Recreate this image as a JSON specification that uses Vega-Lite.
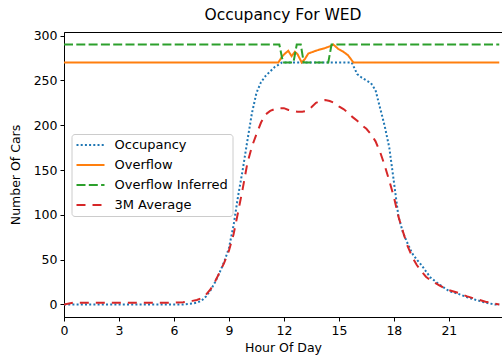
{
  "$schema": "https://vega.github.io/schema/vega-lite/v6.json",
  "width": 438,
  "height": 285,
  "autosize": {"type": "none"},
  "padding": {"left": 64, "top": 32, "right": 0, "bottom": 43},
  "background": "white",
  "title": {"text": "Occupancy For WED", "font": "DejaVu Sans", "fontSize": 15.5, "fontWeight": "normal", "color": "black", "anchor": "middle", "offset": 6},
  "config": {
    "view": {"stroke": "black", "strokeWidth": 1},
    "font": "DejaVu Sans",
    "axis": {"domainColor": "black", "tickColor": "black", "labelColor": "black", "titleColor": "black", "labelFont": "DejaVu Sans", "titleFont": "DejaVu Sans", "labelFontSize": 12.5, "titleFontSize": 12.5, "titleFontWeight": "normal", "tickSize": 4, "labelPadding": 3, "grid": false, "domainWidth": 1, "tickWidth": 1, "labelFlush": false, "labelOverlap": false},
    "legend": {"orient": "none", "legendX": 7.5, "legendY": 102, "padding": 4, "strokeColor": "#cccccc", "fillColor": "rgba(255,255,255,0.8)", "cornerRadius": 3, "symbolType": "stroke", "symbolSize": 784, "labelFont": "DejaVu Sans", "labelFontSize": 13, "labelColor": "black", "labelOffset": 9, "rowPadding": 6, "clipHeight": 14}
  },
  "data": {"values": [
    {"h":0,"s":"Occupancy","v":0},{"h":0.5,"s":"Occupancy","v":0},{"h":1,"s":"Occupancy","v":0},{"h":1.5,"s":"Occupancy","v":0},{"h":2,"s":"Occupancy","v":0},{"h":2.5,"s":"Occupancy","v":0},{"h":3,"s":"Occupancy","v":0},{"h":3.5,"s":"Occupancy","v":0},{"h":4,"s":"Occupancy","v":0},{"h":4.5,"s":"Occupancy","v":0},{"h":5,"s":"Occupancy","v":0},{"h":5.5,"s":"Occupancy","v":0},{"h":6,"s":"Occupancy","v":0},{"h":6.5,"s":"Occupancy","v":0},{"h":7,"s":"Occupancy","v":1},{"h":7.25,"s":"Occupancy","v":2},{"h":7.5,"s":"Occupancy","v":4},{"h":7.75,"s":"Occupancy","v":9},{"h":8,"s":"Occupancy","v":16},{"h":8.25,"s":"Occupancy","v":25},{"h":8.5,"s":"Occupancy","v":36},{"h":8.75,"s":"Occupancy","v":48},{"h":9,"s":"Occupancy","v":63},{"h":9.25,"s":"Occupancy","v":88},{"h":9.5,"s":"Occupancy","v":121},{"h":9.75,"s":"Occupancy","v":150},{"h":10,"s":"Occupancy","v":182},{"h":10.25,"s":"Occupancy","v":213},{"h":10.5,"s":"Occupancy","v":236},{"h":10.75,"s":"Occupancy","v":248},{"h":11,"s":"Occupancy","v":255},{"h":11.25,"s":"Occupancy","v":260},{"h":11.5,"s":"Occupancy","v":265},{"h":11.75,"s":"Occupancy","v":268},{"h":11.9,"s":"Occupancy","v":270},{"h":15.7,"s":"Occupancy","v":270},{"h":16,"s":"Occupancy","v":257},{"h":16.25,"s":"Occupancy","v":253},{"h":16.5,"s":"Occupancy","v":250},{"h":16.75,"s":"Occupancy","v":247},{"h":17,"s":"Occupancy","v":239},{"h":17.25,"s":"Occupancy","v":219},{"h":17.5,"s":"Occupancy","v":199},{"h":17.75,"s":"Occupancy","v":175},{"h":18,"s":"Occupancy","v":137},{"h":18.25,"s":"Occupancy","v":98},{"h":18.5,"s":"Occupancy","v":80},{"h":18.75,"s":"Occupancy","v":68},{"h":19,"s":"Occupancy","v":57},{"h":19.25,"s":"Occupancy","v":50},{"h":19.5,"s":"Occupancy","v":44},{"h":19.75,"s":"Occupancy","v":37},{"h":20,"s":"Occupancy","v":30},{"h":20.5,"s":"Occupancy","v":22},{"h":21,"s":"Occupancy","v":15},{"h":21.5,"s":"Occupancy","v":12},{"h":22,"s":"Occupancy","v":8},{"h":22.5,"s":"Occupancy","v":5},{"h":23,"s":"Occupancy","v":2},{"h":23.5,"s":"Occupancy","v":0},{"h":23.75,"s":"Occupancy","v":0},
    {"h":0,"s":"Overflow","v":270},{"h":11.7,"s":"Overflow","v":270},{"h":11.88,"s":"Overflow","v":276},{"h":12.06,"s":"Overflow","v":280},{"h":12.24,"s":"Overflow","v":283},{"h":12.42,"s":"Overflow","v":277},{"h":12.6,"s":"Overflow","v":282},{"h":12.75,"s":"Overflow","v":279},{"h":12.97,"s":"Overflow","v":270},{"h":13.15,"s":"Overflow","v":274},{"h":13.33,"s":"Overflow","v":280},{"h":13.6,"s":"Overflow","v":282},{"h":13.88,"s":"Overflow","v":284},{"h":14.24,"s":"Overflow","v":286},{"h":14.5,"s":"Overflow","v":288},{"h":14.7,"s":"Overflow","v":290},{"h":14.97,"s":"Overflow","v":285},{"h":15.24,"s":"Overflow","v":282},{"h":15.5,"s":"Overflow","v":278},{"h":15.79,"s":"Overflow","v":270},{"h":23.75,"s":"Overflow","v":270},
    {"h":0,"s":"Overflow Inferred","v":290},{"h":11.75,"s":"Overflow Inferred","v":290},{"h":11.95,"s":"Overflow Inferred","v":270},{"h":12.52,"s":"Overflow Inferred","v":270},{"h":12.7,"s":"Overflow Inferred","v":290},{"h":12.92,"s":"Overflow Inferred","v":290},{"h":13.08,"s":"Overflow Inferred","v":270},{"h":14.42,"s":"Overflow Inferred","v":270},{"h":14.6,"s":"Overflow Inferred","v":290},{"h":23.75,"s":"Overflow Inferred","v":290},
    {"h":0,"s":"3M Average","v":0},{"h":0.5,"s":"3M Average","v":2},{"h":1,"s":"3M Average","v":2},{"h":1.5,"s":"3M Average","v":2},{"h":2,"s":"3M Average","v":2},{"h":2.5,"s":"3M Average","v":2},{"h":3,"s":"3M Average","v":2},{"h":3.5,"s":"3M Average","v":2},{"h":4,"s":"3M Average","v":2},{"h":4.5,"s":"3M Average","v":2},{"h":5,"s":"3M Average","v":2},{"h":5.5,"s":"3M Average","v":2},{"h":6,"s":"3M Average","v":2},{"h":6.5,"s":"3M Average","v":2.5},{"h":7,"s":"3M Average","v":4},{"h":7.25,"s":"3M Average","v":5},{"h":7.5,"s":"3M Average","v":7},{"h":7.75,"s":"3M Average","v":11},{"h":8,"s":"3M Average","v":17},{"h":8.25,"s":"3M Average","v":26},{"h":8.5,"s":"3M Average","v":36},{"h":8.75,"s":"3M Average","v":47},{"h":9,"s":"3M Average","v":60},{"h":9.25,"s":"3M Average","v":78},{"h":9.5,"s":"3M Average","v":103},{"h":9.75,"s":"3M Average","v":129},{"h":10,"s":"3M Average","v":157},{"h":10.25,"s":"3M Average","v":176},{"h":10.5,"s":"3M Average","v":190},{"h":10.75,"s":"3M Average","v":203},{"h":11,"s":"3M Average","v":212},{"h":11.25,"s":"3M Average","v":216},{"h":11.5,"s":"3M Average","v":218},{"h":11.75,"s":"3M Average","v":219},{"h":12,"s":"3M Average","v":219},{"h":12.25,"s":"3M Average","v":217},{"h":12.5,"s":"3M Average","v":216},{"h":12.75,"s":"3M Average","v":215},{"h":13,"s":"3M Average","v":215},{"h":13.25,"s":"3M Average","v":216},{"h":13.5,"s":"3M Average","v":220},{"h":13.75,"s":"3M Average","v":225},{"h":14,"s":"3M Average","v":227},{"h":14.25,"s":"3M Average","v":228},{"h":14.5,"s":"3M Average","v":227},{"h":14.75,"s":"3M Average","v":225},{"h":15,"s":"3M Average","v":221},{"h":15.25,"s":"3M Average","v":218},{"h":15.5,"s":"3M Average","v":214},{"h":15.75,"s":"3M Average","v":209},{"h":16,"s":"3M Average","v":205},{"h":16.25,"s":"3M Average","v":200},{"h":16.5,"s":"3M Average","v":196},{"h":16.75,"s":"3M Average","v":190},{"h":17,"s":"3M Average","v":182},{"h":17.25,"s":"3M Average","v":170},{"h":17.5,"s":"3M Average","v":155},{"h":17.75,"s":"3M Average","v":138},{"h":18,"s":"3M Average","v":120},{"h":18.25,"s":"3M Average","v":98},{"h":18.5,"s":"3M Average","v":81},{"h":18.75,"s":"3M Average","v":65},{"h":19,"s":"3M Average","v":53},{"h":19.25,"s":"3M Average","v":44},{"h":19.5,"s":"3M Average","v":37},{"h":19.75,"s":"3M Average","v":31},{"h":20,"s":"3M Average","v":27},{"h":20.5,"s":"3M Average","v":21},{"h":21,"s":"3M Average","v":16},{"h":21.5,"s":"3M Average","v":13},{"h":22,"s":"3M Average","v":9},{"h":22.5,"s":"3M Average","v":6},{"h":23,"s":"3M Average","v":3},{"h":23.5,"s":"3M Average","v":1},{"h":23.75,"s":"3M Average","v":0}
  ]},
  "mark": {"type": "line", "clip": true},
  "encoding": {
    "x": {"field": "h", "type": "quantitative", "scale": {"domain": [0, 23.9], "nice": false, "zero": false}, "axis": {"values": [0, 3, 6, 9, 12, 15, 18, 21], "title": "Hour Of Day", "titlePadding": 5}},
    "y": {"field": "v", "type": "quantitative", "scale": {"domain": [-14, 304], "nice": false, "zero": false}, "axis": {"values": [0, 50, 100, 150, 200, 250, 300], "title": "Number Of Cars", "titlePadding": 11}},
    "color": {"field": "s", "type": "nominal", "scale": {"domain": ["Occupancy", "Overflow", "Overflow Inferred", "3M Average"], "range": ["#1f77b4", "#ff7f0e", "#2ca02c", "#d62728"]}, "legend": {"title": null}},
    "strokeDash": {"field": "s", "type": "nominal", "scale": {"domain": ["Occupancy", "Overflow", "Overflow Inferred", "3M Average"], "range": [[2, 2.2], [1, 0], [9, 3.3], [9, 7]]}, "legend": {"title": null}},
    "strokeWidth": {"field": "s", "type": "nominal", "scale": {"domain": ["Occupancy", "Overflow", "Overflow Inferred", "3M Average"], "range": [2, 2, 2, 2.5]}, "legend": {"title": null}}
  }
}
